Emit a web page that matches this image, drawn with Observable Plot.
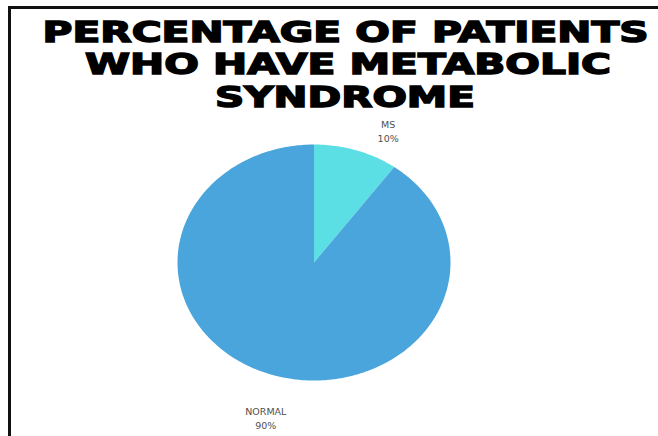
<!DOCTYPE html>
<html>
<head>
<meta charset="utf-8">
<script src="https://cdn.jsdelivr.net/npm/d3@7"></script>
<script src="https://cdn.jsdelivr.net/npm/@observablehq/plot@0.6"></script>
<style>
  html, body { margin: 0; padding: 0; background: #fff; }
  #page { position: relative; width: 658px; height: 436px; overflow: hidden; background: #fff; }
  #frame { position: absolute; left: 8px; top: 6px; width: 720px; height: 520px;
           border-left: 3px solid #111; border-top: 3px solid #111; box-sizing: border-box; pointer-events: none; }
  #title { position: absolute; left: 0; top: 0; width: 658px; height: 115px; margin: 0;
           font-family: "DejaVu Sans", sans-serif; font-weight: 900; color: #000; }
  #title .line { position: absolute; white-space: nowrap; font-size: 29px; line-height: 29px;
           -webkit-text-stroke: 1.5px #000; transform-origin: center center; }
  #chart { position: absolute; left: 0; top: 115px; }
</style>
</head>
<body>
<div id="page">
  <div id="title">
    <div class="line" data-w="606" data-cx="346" style="top:18px">PERCENTAGE OF PATIENTS</div>
    <div class="line" data-w="526" data-cx="348" style="top:50px">WHO HAVE METABOLIC</div>
    <div class="line" data-w="260" data-cx="345" style="top:83px">SYNDROME</div>
  </div>
  <div id="chart"></div>
  <div id="frame"></div>
</div>
<script>
const categories = ["MS", "NORMAL"];
const values = [10, 90];
const colors = ["#5CDFE4", "#49A5DB"];

const pie = d3.pie().sort(null).value(d => d.value);
const arcs = pie(categories.map((name, i) => ({name, value: values[i]})));

// Build each slice outline from its start/end angles (angle 0 at 12 o'clock, clockwise)
const slicePts = [];
for (const a of arcs) {
  const name = a.data.name;
  slicePts.push({name, x: 0, y: 0});
  const n = Math.max(2, Math.ceil((a.endAngle - a.startAngle) / (Math.PI / 180)));
  for (let k = 0; k <= n; k++) {
    const t = a.startAngle + (a.endAngle - a.startAngle) * k / n;
    slicePts.push({name, x: Math.sin(t), y: Math.cos(t)});
  }
  slicePts.push({name, x: 0, y: 0});
}

const labels = arcs.map(a => {
  const m = (a.startAngle + a.endAngle) / 2;
  return {name: a.data.name, x: Math.sin(m), y: Math.cos(m),
          text: `${a.data.name}\n${Math.round(a.value)}%`};
});

const labelStyle = {fontFamily: "DejaVu Sans, sans-serif", fontSize: 9.5, fill: "#505050",
                    lineHeight: 1.5, lineAnchor: "middle", textAnchor: "middle"};

const chart = Plot.plot({
  width: 658,
  height: 321,
  marginLeft: 177,
  marginRight: 208,
  marginTop: 29,
  marginBottom: 56,
  x: {domain: [-1, 1], axis: null},
  y: {domain: [-1, 1], axis: null},
  color: {domain: categories, range: colors},
  style: {background: "transparent", overflow: "visible"},
  marks: [
    Plot.line(slicePts, {x: "x", y: "y", z: "name", fill: "name", stroke: null, curve: "linear"}),
    Plot.text(labels.filter(d => d.name === "MS"), {x: "x", y: "y", text: "text", dx: 32, dy: -20, ...labelStyle}),
    Plot.text(labels.filter(d => d.name === "NORMAL"), {x: "x", y: "y", text: "text", dx: -6, dy: 43, ...labelStyle})
  ]
});
document.getElementById("chart").appendChild(chart);

// fit title lines to their widths
document.querySelectorAll("#title .line").forEach(el => {
  const w = el.getBoundingClientRect().width;
  const target = +el.dataset.w;
  const cx = +el.dataset.cx;
  el.style.left = (cx - w / 2) + "px";
  el.style.transform = `scaleX(${target / w})`;
});
</script>
</body>
</html>
